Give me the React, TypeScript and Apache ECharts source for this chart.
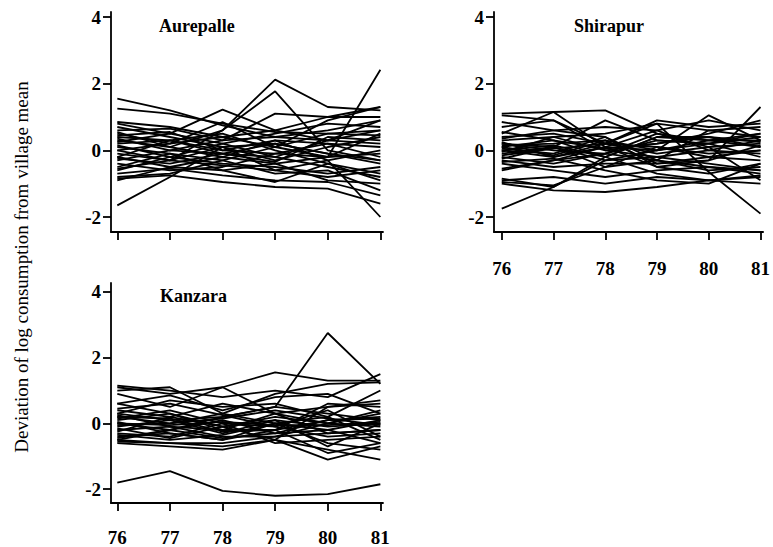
import React, { useEffect, useRef } from "react";
import * as echarts from "echarts";

const years = [76, 77, 78, 79, 80, 81];
const yTicks = [-2, 0, 2, 4];
const villages = ["Aurepalle", "Shirapur", "Kanzara"];
const yTitle = "Deviation of log consumption from village mean";

const aurepalle: number[][] = [
  [1.55, 1.2, 0.75, 0.4, 0.3, 0.6],
  [1.25, 1.1, 0.8, 0.55, 0.5, 0.45],
  [-1.65, -0.8, 0.1, 0.2, -0.1, -0.3],
  [0.3, 0.1, 0.6, 2.12, 1.3, 1.2],
  [0.0, -0.3, 0.6, 1.77, 0.0, -0.3],
  [0.8, 0.5, 1.22, 0.6, 0.3, 0.9],
  [0.5, 0.2, 0.85, 0.1, 0.9, 1.3],
  [-0.2, -0.5, -0.2, -0.4, -0.2, 2.42],
  [0.2, 0.3, 0.0, 0.3, -0.3, -2.0],
  [-0.85, -0.75, -0.95, -1.1, -1.15, -1.6],
  [-0.7, -0.55, -0.75, -0.9, -0.95, -1.35],
  [-0.5, -0.1, -0.3, -0.7, -0.6, -1.2],
  [0.85, 0.7, 0.4, 0.6, 1.0, 1.3],
  [0.6, 0.65, 0.3, 1.1, 1.0, 1.0],
  [0.4, 0.3, -0.1, -0.2, 0.3, 0.2],
  [0.0, 0.2, 0.4, 0.1, 0.5, 0.6],
  [-0.1, -0.3, 0.1, -0.6, -0.3, 0.0],
  [-0.3, 0.0, -0.1, 0.2, -0.1, -0.4],
  [-0.4, -0.6, -0.5, -0.1, 0.2, 0.1],
  [0.15, -0.2, -0.4, -0.5, -0.7, -0.5],
  [0.7, 0.4, 0.1, -0.3, 0.1, 0.4],
  [-0.8, -0.7, -0.3, 0.1, -0.2, -0.1],
  [0.25, 0.5, 0.2, 0.5, 0.8, 0.7],
  [-0.6, -0.2, 0.2, -0.2, -0.5, -0.8],
  [0.55, 0.1, -0.2, 0.3, 0.2, -0.2],
  [-0.2, 0.3, 0.5, 0.0, -0.4, -0.7],
  [0.1, -0.1, -0.6, -0.95, -0.4, -0.9],
  [-0.9, -0.5, -0.6, -0.4, -0.9, -1.0],
  [0.35, 0.0, 0.3, 0.4, 0.6, 0.9],
  [-0.25, -0.4, -0.1, -0.35, 0.4, 0.3],
  [0.45, 0.55, 0.0, -0.1, -0.2, 0.5],
  [-0.55, -0.3, -0.45, -0.6, -0.8, -0.6],
];

const shirapur: number[][] = [
  [1.1, 1.15, 1.2, 0.5, 0.3, 0.3],
  [1.05, 0.9, 0.2, 0.8, 0.6, 0.7],
  [-1.75, -1.1, -0.3, 0.0, 0.2, 0.4],
  [0.3, 0.4, 0.5, 0.8, -0.65, -1.9],
  [0.5, 1.15, 0.1, 0.0, 1.05, 0.3],
  [0.2, 0.1, 0.9, 0.3, 0.2, 0.5],
  [-1.0, -1.2, -1.25, -1.1, -0.9, -0.75],
  [-0.95, -1.05, -0.5, -0.3, -0.5, -0.6],
  [-0.9, -0.8, -1.0, -0.8, -0.9, -1.0],
  [-0.85, -1.1, -0.2, -0.7, -0.9, -0.8],
  [-0.55, -0.3, 0.1, -0.5, -0.3, 1.3],
  [0.85, 0.6, 0.4, -0.5, -0.7, -0.4],
  [0.7, 0.9, 0.0, 0.2, 0.5, 0.9],
  [0.4, 0.5, 0.2, 0.9, 0.7, 0.8],
  [0.2, 0.0, -0.1, 0.5, 0.1, 0.2],
  [0.1, 0.3, 0.05, 0.2, 0.4, 0.1],
  [0.0, -0.2, 0.2, 0.1, -0.1, 0.0],
  [-0.1, 0.1, -0.3, -0.2, 0.0, 0.3],
  [-0.2, -0.4, -0.1, 0.3, 0.2, -0.2],
  [0.15, 0.2, 0.3, 0.0, 0.3, 0.5],
  [-0.3, -0.5, -0.4, -0.4, -0.2, -0.3],
  [0.05, -0.1, 0.4, -0.3, 0.6, 0.4],
  [-0.05, 0.4, 0.0, -0.2, -0.4, -0.6],
  [0.25, -0.2, 0.1, 0.6, 0.0, -0.1],
  [-0.4, -0.6, -0.8, -0.6, -0.5, -0.7],
  [0.55, 0.3, -0.2, 0.4, 0.3, 0.1],
  [-0.15, 0.05, 0.2, -0.1, 0.1, -0.9],
  [0.35, 0.6, 0.7, 0.6, 0.9, 0.6],
  [-0.25, 0.1, -0.5, 0.1, -0.2, 0.0],
  [0.0, 0.15, -0.2, 0.4, 0.4, 0.25],
  [-0.6, -0.3, -0.1, -0.3, -0.6, -0.5],
  [0.1, -0.15, 0.3, -0.4, -0.3, 0.15],
  [-0.35, -0.25, -0.6, -0.9, -1.0, -0.4],
];

const kanzara: number[][] = [
  [-1.8, -1.45, -2.05, -2.2, -2.15, -1.85],
  [0.3, 0.1, 0.2, 0.5, 2.75, 1.2],
  [1.1, 0.9, 1.1, 1.55, 1.3, 1.3],
  [1.15, 1.0, 0.8, 1.0, 0.8, 1.5],
  [1.0, 1.1, 0.3, 0.9, 1.2, 1.25],
  [0.9, 0.5, 1.1, 0.3, 0.5, 0.7],
  [0.6, 0.85, 0.4, 0.8, 0.9, 0.3],
  [0.3, 0.7, 0.5, 0.6, 0.2, 1.0],
  [-0.5, -0.6, -0.7, -0.5, -1.1, -0.7],
  [-0.6, -0.7, -0.8, -0.5, -0.8, -1.1],
  [-0.4, -0.3, -0.5, -0.2, -0.9, -0.6],
  [0.2, 0.0, 0.3, 0.0, -0.2, 0.1],
  [0.1, 0.3, -0.1, 0.2, 0.0, -0.1],
  [0.0, -0.2, 0.1, -0.3, 0.1, 0.2],
  [-0.1, 0.1, -0.3, 0.1, -0.1, 0.0],
  [-0.2, -0.1, -0.2, 0.3, -0.3, -0.2],
  [-0.3, -0.4, 0.0, -0.1, -0.4, -0.3],
  [0.25, -0.1, -0.4, -0.4, 0.0, 0.4],
  [-0.45, -0.2, 0.2, 0.5, 0.3, 0.1],
  [0.15, 0.4, 0.0, -0.6, -0.5, -0.4],
  [-0.35, -0.5, -0.35, 0.0, 0.2, -0.5],
  [0.05, -0.3, -0.5, 0.0, -0.6, -0.8],
  [-0.25, 0.2, -0.1, -0.5, 0.5, 0.6],
  [0.4, 0.2, 0.6, 0.3, 0.0, 0.3],
  [-0.55, -0.6, -0.6, -0.4, -0.3, -0.2],
  [0.6, 0.3, -0.2, -0.2, 0.6, 0.5],
  [-0.05, 0.0, 0.15, 0.4, 0.15, -0.05],
  [0.45, 0.6, 0.25, -0.1, 0.4, -0.4],
  [-0.15, -0.45, -0.1, 0.1, -0.7, 0.0],
  [0.2, 0.15, -0.25, -0.2, 0.1, 0.15],
  [-0.5, -0.2, -0.45, -0.3, -0.2, -0.6],
  [0.0, -0.05, 0.05, -0.05, -0.05, 0.05],
];

const panelData = [aurepalle, shirapur, kanzara];

const SERIF = "Liberation Serif";

export default function App() {
  const ref = useRef<HTMLDivElement>(null);
  useEffect(() => {
    if (!ref.current) return;
    const chart = echarts.init(ref.current, null, { renderer: "svg" });

    const grids = [
      { left: 111, top: 12, width: 272, height: 220 },
      { left: 494, top: 12, width: 274, height: 220 },
      { left: 111, top: 283, width: 272, height: 222 },
    ];
    const xRanges = [
      [75.88, 81.05],
      [75.85, 81.05],
      [75.88, 81.05],
    ];
    const yRanges = [
      [-2.45, 4.15],
      [-2.45, 4.15],
      [-2.42, 4.27],
    ];
    const showXLabels = [false, true, true];
    const xLabelMargin = [27, 27, 25];

    const axisLineStyle = { color: "#000", width: 1.8 };

    const xAxes = grids.map((_, i) => ({
      type: "value",
      gridIndex: i,
      min: xRanges[i][0],
      max: xRanges[i][1],
      splitLine: { show: false },
      axisLine: { show: true, onZero: false, lineStyle: axisLineStyle },
      axisTick: {
        show: true,
        customValues: years,
        length: 8,
        lineStyle: { color: "#000", width: 1.8 },
      },
      axisLabel: {
        show: showXLabels[i],
        customValues: years,
        margin: xLabelMargin[i],
        color: "#000",
        fontFamily: SERIF,
        fontWeight: "bold",
        fontSize: 19,
      },
    }));

    const yAxes = grids.map((_, i) => ({
      type: "value",
      gridIndex: i,
      min: yRanges[i][0],
      max: yRanges[i][1],
      splitLine: { show: false },
      axisLine: { show: true, onZero: false, lineStyle: axisLineStyle },
      axisTick: {
        show: true,
        customValues: yTicks,
        length: 8,
        lineStyle: { color: "#000", width: 1.8 },
      },
      axisLabel: {
        show: true,
        customValues: yTicks,
        margin: 10,
        color: "#000",
        fontFamily: SERIF,
        fontWeight: "bold",
        fontSize: 19,
        formatter: (v: number) => (v < 0 ? "-" + Math.abs(v) : String(v)),
      },
    }));

    const series: any[] = [];
    panelData.forEach((lines, p) => {
      lines.forEach((vals, k) => {
        series.push({
          type: "line",
          name: villages[p] + " " + (k + 1),
          xAxisIndex: p,
          yAxisIndex: p,
          data: years.map((yr, j) => [yr, vals[j]]),
          showSymbol: false,
          symbol: "none",
          silent: true,
          lineStyle: { color: "#000", width: 1.8 },
          emphasis: { disabled: true },
        });
      });
    });

    const titlePos = [
      { left: 159, top: 17 },
      { left: 574, top: 17 },
      { left: 160, top: 287 },
    ];

    chart.setOption({
      animation: false,
      backgroundColor: "#fff",
      title: villages.map((v, i) => ({
        text: v,
        left: titlePos[i].left,
        top: titlePos[i].top,
        padding: 0,
        textStyle: {
          fontFamily: SERIF,
          fontWeight: "bold",
          fontSize: 18,
          color: "#000",
        },
      })),
      grid: grids,
      xAxis: xAxes,
      yAxis: yAxes,
      series,
      graphic: [
        {
          type: "text",
          x: 21,
          y: 267,
          rotation: Math.PI / 2,
          style: {
            text: yTitle,
            fill: "#000",
            fontFamily: SERIF,
            fontSize: 19,
            align: "center",
            verticalAlign: "middle",
          },
        },
      ],
    });
    return () => chart.dispose();
  }, []);

  return (
    <div
      ref={ref}
      style={{ position: "fixed", left: 0, top: 0, width: 773, height: 547, background: "#fff" }}
    />
  );
}
